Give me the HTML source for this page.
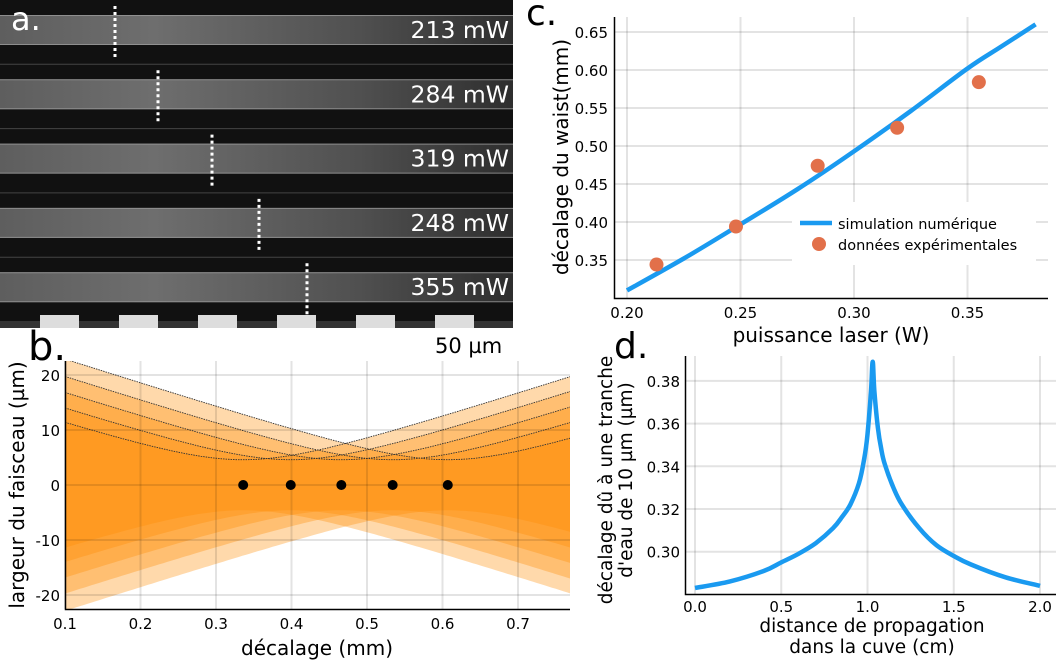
<!DOCTYPE html>
<html><head><meta charset="utf-8"><style>
html,body{margin:0;padding:0;background:#fff}
svg{display:block;font-family:"DejaVu Sans","Liberation Sans",sans-serif}
</style></head><body>
<svg id="fig" width="1056" height="663" viewBox="0 0 1056 663" xmlns="http://www.w3.org/2000/svg">
<defs>
<linearGradient id="band" x1="0" x2="1" y1="0" y2="0">
<stop offset="0" stop-color="#5e5e5e"/><stop offset="0.3" stop-color="#6e6e6e"/><stop offset="0.7" stop-color="#505050"/><stop offset="1" stop-color="#2e2e2e"/>
</linearGradient>
<clipPath id="clipB"><rect x="65" y="361" width="505" height="248"/></clipPath>
<clipPath id="clipD"><rect x="685" y="350" width="371" height="244"/></clipPath>
</defs>
<g id="panelA"></g>
<g id="panelB"></g>
<g id="panelC"></g>
<g id="panelD"></g>
</svg>
<script>
// Panel a data
const powerLabels = ['213 mW','284 mW','319 mW','248 mW','355 mW'];
const markerX = [115, 158, 212, 259, 307];
// Panel b data
const waistPos = [0.336, 0.399, 0.466, 0.534, 0.607];
const waistW0 = 4.6;
const rayleigh = 0.104;
const bXTicks = [0.1,0.2,0.3,0.4,0.5,0.6,0.7];
const bYTicks = [20,10,0,-10,-20];
// Panel c data
const simPower = [0.20,0.225,0.25,0.275,0.30,0.325,0.35,0.365,0.38];
const simShift = [0.310,0.352,0.397,0.443,0.493,0.546,0.602,0.631,0.660];
const expPower = [0.213,0.248,0.284,0.319,0.355];
const expShift = [0.344,0.394,0.474,0.524,0.584];
const cXTicks = [0.20,0.25,0.30,0.35];
const cYTicks = [0.35,0.40,0.45,0.50,0.55,0.60,0.65];
// Panel d data
const dDist = [0,0.2,0.4,0.5,0.6,0.7,0.8,0.85,0.9,0.95,0.98,1.0,1.02,1.03,1.04,1.06,1.08,1.1,1.15,1.2,1.3,1.4,1.5,1.6,1.8,2.0];
const dShift = [0.283,0.286,0.291,0.295,0.299,0.304,0.311,0.316,0.322,0.332,0.343,0.355,0.375,0.389,0.375,0.358,0.348,0.341,0.330,0.322,0.311,0.303,0.298,0.294,0.288,0.284];
const dXTicks = [0.0,0.5,1.0,1.5,2.0];
const dYTicks = [0.30,0.32,0.34,0.36,0.38];

const NS='http://www.w3.org/2000/svg';
function mk(parent, tag, attrs, text){
  const e=document.createElementNS(NS,tag);
  for(const k in attrs) e.setAttribute(k,attrs[k]);
  if(text!==undefined) e.textContent=text;
  parent.appendChild(e); return e;
}
function smoothPath(P){
  let d='M'+P[0][0].toFixed(1)+','+P[0][1].toFixed(1);
  for(let i=0;i<P.length-1;i++){
    const p0=P[Math.max(0,i-1)],p1=P[i],p2=P[i+1],p3=P[Math.min(P.length-1,i+2)];
    const c1=[p1[0]+(p2[0]-p0[0])/6,p1[1]+(p2[1]-p0[1])/6];
    const c2=[p2[0]-(p3[0]-p1[0])/6,p2[1]-(p3[1]-p1[1])/6];
    d+=' C'+c1[0].toFixed(1)+','+c1[1].toFixed(1)+' '+c2[0].toFixed(1)+','+c2[1].toFixed(1)+' '+p2[0].toFixed(1)+','+p2[1].toFixed(1);
  }
  return d;
}
const GRID='rgba(0,0,0,0.11)';

// ---------- Panel A ----------
(function(){
  const g=document.getElementById('panelA');
  mk(g,'rect',{x:0,y:0,width:513,height:322,fill:'#111'});
  for(let i=0;i<5;i++){
    const y0=i*64.3;
    if(i>0){ const l=mk(g,'line',{x1:0,x2:513,y1:y0,y2:y0,stroke:'#444','stroke-width':1});
        }
    const b=mk(g,'rect',{x:0,y:y0+15,width:513,height:30,fill:'url(#band)'});
     
    mk(g,'line',{x1:0,x2:513,y1:y0+15.5,y2:y0+15.5,stroke:'#9a9a9a','stroke-width':1,'stroke-opacity':0.8});
    mk(g,'line',{x1:0,x2:513,y1:y0+44.5,y2:y0+44.5,stroke:'#9a9a9a','stroke-width':1,'stroke-opacity':0.8});
    const m=mk(g,'line',{x1:markerX[i],x2:markerX[i],y1:y0+6,y2:y0+59,stroke:'#fff','stroke-width':3,'stroke-dasharray':'3 3'});
     
    const t=mk(g,'text',{x:509,y:y0+38,'text-anchor':'end',fill:'#fff','font-size':23.5},powerLabels[i]);
     
  }
  mk(g,'rect',{x:0,y:321,width:513,height:7,fill:'#333'});
  for(let i=0;i<6;i++){ const r=mk(g,'rect',{x:40+i*79,y:315,width:39,height:13,fill:'#ddd'});
      }
  const a=mk(g,'text',{x:11,y:30,fill:'#fff','font-size':32},'a.');
   
  const s=mk(g,'text',{x:435,y:353,fill:'#000','font-size':21},'50 µm');
   
})();

// ---------- Panel B ----------
(function(){
  const g=document.getElementById('panelB');
  const X=v=>65+(v-0.1)*755, Y=v=>485-v*5.5;
  const w=(z,z0)=>waistW0*Math.sqrt(1+((z-z0)/rayleigh)**2);
  const fills=mk(g,'g',{'clip-path':'url(#clipB)'});
  waistPos.forEach(z0=>{
    let up=[],lo=[];
    for(let z=0.1;z<=0.7751;z+=0.005){ up.push(X(z).toFixed(1)+','+Y(w(z,z0)).toFixed(1)); lo.unshift(X(z).toFixed(1)+','+Y(-w(z,z0)).toFixed(1)); }
    const p=mk(fills,'polygon',{points:up.concat(lo).join(' '),fill:'rgb(255,140,0)','fill-opacity':0.33});
     
  });
  waistPos.forEach(z0=>{
    let up=[]; for(let z=0.1;z<=0.7751;z+=0.005) up.push(X(z).toFixed(1)+','+Y(w(z,z0)).toFixed(1));
    const l=mk(fills,'polyline',{points:up.join(' '),fill:'none',stroke:'#333','stroke-width':0.9,'stroke-dasharray':'1.5 1'});
     
  });
  bXTicks.forEach(t=>{ mk(g,'line',{x1:X(t),x2:X(t),y1:361,y2:609,stroke:GRID,'stroke-width':2});
    const tx=mk(g,'text',{x:X(t),y:629,'text-anchor':'middle','font-size':15},t.toFixed(1));
      });
  bYTicks.forEach(t=>{ mk(g,'line',{x1:65,x2:570,y1:Y(t),y2:Y(t),stroke:GRID,'stroke-width':2});
    const tx=mk(g,'text',{x:60,y:Y(t)+6,'text-anchor':'end','font-size':15},String(t));
      });
  waistPos.forEach(z0=>{ const c=mk(g,'circle',{cx:X(z0),cy:Y(0),r:5,fill:'#000'});
      });
  mk(g,'path',{d:'M65.5,361 V609.5 H570',fill:'none',stroke:'#000','stroke-width':1.5});
  const xt=mk(g,'text',{x:317,y:655,'text-anchor':'middle','font-size':20},'décalage (mm)');
   
  const yt=mk(g,'text',{x:0,y:0,'text-anchor':'middle','font-size':20,transform:'translate(24,485) rotate(-90)'},'largeur du faisceau (µm)');
   
  const lb=mk(g,'text',{x:28,y:360,'font-size':40},'b.');
   
})();

// ---------- Panel C ----------
(function(){
  const g=document.getElementById('panelC');
  const X=v=>627+(v-0.2)*2270, Y=v=>146-(v-0.5)*760;
  cXTicks.forEach(t=>{ mk(g,'line',{x1:X(t),x2:X(t),y1:17,y2:298,stroke:GRID,'stroke-width':2});
    const tx=mk(g,'text',{x:X(t),y:318,'text-anchor':'middle','font-size':15},t.toFixed(2));
      });
  cYTicks.forEach(t=>{ mk(g,'line',{x1:614,x2:1048,y1:Y(t),y2:Y(t),stroke:GRID,'stroke-width':2});
    const tx=mk(g,'text',{x:608,y:Y(t)+6,'text-anchor':'end','font-size':15},t.toFixed(2));
      });
  const lg=mk(g,'rect',{x:792,y:202,width:244,height:63,fill:'#fff'});
   
  const P=simPower.map((p,i)=>[X(p),Y(simShift[i])]);
  const ln=mk(g,'path',{d:smoothPath(P),fill:'none',stroke:'#1a9af0','stroke-width':4.5});
   
  expPower.forEach((p,i)=>{ const c=mk(g,'circle',{cx:X(p),cy:Y(expShift[i]),r:7,fill:'#e2704a'});
      });
  mk(g,'path',{d:'M614.5,17 V298.5 H1048',fill:'none',stroke:'#000','stroke-width':1.5});
  const l1=mk(g,'line',{x1:800,x2:832,y1:223,y2:223,stroke:'#1a9af0','stroke-width':4.5});
   
  const t1=mk(g,'text',{x:838,y:229,'font-size':14.5},'simulation numérique');
   
  const c1=mk(g,'circle',{cx:819,cy:244,r:7,fill:'#e2704a'});
   
  const t2=mk(g,'text',{x:838,y:250,'font-size':14.5},'données expérimentales');
   
  const xt=mk(g,'text',{x:831,y:342,'text-anchor':'middle','font-size':20},'puissance laser (W)');
   
  const yt=mk(g,'text',{x:0,y:0,'text-anchor':'middle','font-size':20,transform:'translate(568,157) rotate(-90)'},'décalage du waist(mm)');
   
  const lb=mk(g,'text',{x:526,y:25,'font-size':36},'c.');
   
})();

// ---------- Panel D ----------
(function(){
  const g=document.getElementById('panelD');
  const X=v=>695+v*172.5, Y=v=>551.7-(v-0.30)*2135;
  dXTicks.forEach(t=>{ mk(g,'line',{x1:X(t),x2:X(t),y1:356,y2:594,stroke:GRID,'stroke-width':2});
    const tx=mk(g,'text',{x:X(t),y:612,'text-anchor':'middle','font-size':15},t.toFixed(1));
      });
  dYTicks.forEach(t=>{ mk(g,'line',{x1:685,x2:1056,y1:Y(t),y2:Y(t),stroke:GRID,'stroke-width':2});
    const tx=mk(g,'text',{x:680,y:Y(t)+6,'text-anchor':'end','font-size':15},t.toFixed(2));
      });
  const P=dDist.map((d,i)=>[X(d),Y(dShift[i])]);
  const ln=mk(g,'path',{d:smoothPath(P),fill:'none',stroke:'#1a9af0','stroke-width':4.5,'stroke-linejoin':'round','clip-path':'url(#clipD)'});
   
  mk(g,'path',{d:'M685.5,356 V594.5 H1056',fill:'none',stroke:'#000','stroke-width':1.5});
  const x1=mk(g,'text',{x:872,y:632,'text-anchor':'middle','font-size':18.5},'distance de propagation');
   
  const x2=mk(g,'text',{x:872,y:653,'text-anchor':'middle','font-size':18.5},'dans la cuve (cm)');
   
  const y1=mk(g,'text',{x:0,y:0,'text-anchor':'middle','font-size':18.5,transform:'translate(612,480) rotate(-90)'},'décalage dû à une tranche');
   
  const y2=mk(g,'text',{x:0,y:0,'text-anchor':'middle','font-size':18.5,transform:'translate(632,480) rotate(-90)'},"d'eau de 10 µm (µm)");
   
  const lb=mk(g,'text',{x:614,y:358,'font-size':36},'d.');
   
})();
</script>
</body></html>
